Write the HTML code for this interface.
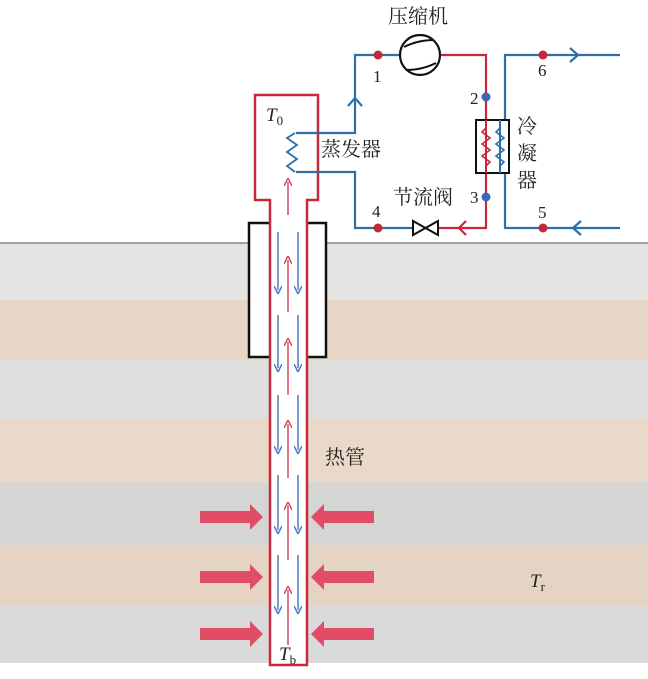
<!DOCTYPE html>
<html><head><meta charset="utf-8"><style>
body{margin:0;width:648px;height:674px;overflow:hidden;background:#fff}
svg text{font-family:"Liberation Serif","Noto Serif CJK SC",serif;fill:#222}
</style></head><body>
<svg width="648" height="674" viewBox="0 0 648 674" xmlns="http://www.w3.org/2000/svg">
<defs>
<marker id="pu" markerWidth="8" markerHeight="8" refX="4" refY="4" orient="auto" markerUnits="userSpaceOnUse"><path d="M0,0 L8,4 L0,8" fill="none" stroke="#d04a6a" stroke-width="1.5"/></marker>
<marker id="bd" markerWidth="8" markerHeight="8" refX="4" refY="4" orient="auto" markerUnits="userSpaceOnUse"><path d="M0,0 L8,4 L0,8" fill="none" stroke="#4a7ac0" stroke-width="1.5"/></marker>
</defs>
<rect x="0" y="243" width="648" height="420" fill="#e4e4e2"/>
<rect x="0" y="300" width="648" height="60" fill="#e8d7c6"/>
<rect x="0" y="360" width="648" height="60" fill="#dededd"/>
<rect x="0" y="420" width="648" height="62" fill="#ead9c9"/>
<rect x="0" y="482" width="648" height="63" fill="#d5d5d4"/>
<rect x="0" y="545" width="648" height="60" fill="#e5d3c3"/>
<rect x="0" y="605" width="648" height="58" fill="#dadada"/>
<line x1="0" y1="243" x2="648" y2="243" stroke="#888" stroke-width="1.5"/>
<rect x="249" y="223" width="77" height="134" fill="#fff" stroke="#111" stroke-width="2.5"/>
<path d="M270,665 L270,200 L255,200 L255,95 L318,95 L318,200 L307,200 L307,665 Z" fill="#fff" stroke="#c8283a" stroke-width="2.5"/>
<g stroke-width="1.5">
<line x1="288" y1="215" x2="288" y2="182" stroke="#d04a6a" marker-end="url(#pu)"/>
<g stroke="#d04a6a">
<line x1="288" y1="312" x2="288" y2="260" marker-end="url(#pu)"/>
<line x1="288" y1="395" x2="288" y2="342" marker-end="url(#pu)"/>
<line x1="288" y1="478" x2="288" y2="424" marker-end="url(#pu)"/>
<line x1="288" y1="560" x2="288" y2="506" marker-end="url(#pu)"/>
<line x1="288" y1="645" x2="288" y2="590" marker-end="url(#pu)"/>
</g>
<g stroke="#4a7ac0">
<line x1="278" y1="232" x2="278" y2="290" marker-end="url(#bd)"/><line x1="298" y1="232" x2="298" y2="290" marker-end="url(#bd)"/>
<line x1="278" y1="315" x2="278" y2="368" marker-end="url(#bd)"/><line x1="298" y1="315" x2="298" y2="368" marker-end="url(#bd)"/>
<line x1="278" y1="395" x2="278" y2="450" marker-end="url(#bd)"/><line x1="298" y1="395" x2="298" y2="450" marker-end="url(#bd)"/>
<line x1="278" y1="475" x2="278" y2="530" marker-end="url(#bd)"/><line x1="298" y1="475" x2="298" y2="530" marker-end="url(#bd)"/>
<line x1="278" y1="555" x2="278" y2="610" marker-end="url(#bd)"/><line x1="298" y1="555" x2="298" y2="610" marker-end="url(#bd)"/>
</g>
</g>
<g fill="#e14d66">
<path d="M200,511 L250,511 L250,504 L263,517 L250,530 L250,523 L200,523 Z"/>
<path d="M200,571 L250,571 L250,564 L263,577 L250,590 L250,583 L200,583 Z"/>
<path d="M200,628 L250,628 L250,621 L263,634 L250,647 L250,640 L200,640 Z"/>
<path d="M374,511 L324,511 L324,504 L311,517 L324,530 L324,523 L374,523 Z"/>
<path d="M374,571 L324,571 L324,564 L311,577 L324,590 L324,583 L374,583 Z"/>
<path d="M374,628 L324,628 L324,621 L311,634 L324,647 L324,640 L374,640 Z"/>
</g>
<g fill="none" stroke-width="2.2">
<path d="M296,133 L355,133 L355,55 L400,55" stroke="#2f6fa8"/>
<path d="M296,172 L355,172 L355,228 L413,228" stroke="#2f6fa8"/>
<path d="M440,55 L486,55 L486,228 L438,228" stroke="#c8283a"/>
<path d="M620,55 L505,55 L505,228 L620,228" stroke="#2f6fa8"/>
<path d="M295,133 L287,138 L297,145 L287,152 L297,159 L287,166 L295,172" stroke="#2f6fa8" stroke-width="1.8"/>
<path d="M348,106 L355,98 L362,106" stroke="#2f6fa8"/>
<path d="M570,48 L578,55 L570,62" stroke="#2f6fa8"/>
<path d="M581,221 L573,228 L581,235" stroke="#2f6fa8"/>
<path d="M466,221 L459,228 L466,235" stroke="#c8283a"/>
</g>
<circle cx="420" cy="55" r="20" fill="#fff" stroke="#111" stroke-width="2.2"/>
<path d="M404,47 Q418,40 434,40 M406,70 Q422,70 436,63" fill="none" stroke="#111" stroke-width="2"/>
<rect x="476" y="120" width="33" height="53" fill="#fff" stroke="#111" stroke-width="2"/>
<line x1="486" y1="120" x2="486" y2="173" stroke="#c8283a" stroke-width="2"/>
<path d="M486,128 L482,132 L490,138 L482,144 L490,150 L482,156 L490,162 L486,166" fill="none" stroke="#c8283a" stroke-width="1.6"/>
<line x1="500" y1="120" x2="500" y2="173" stroke="#2f6fa8" stroke-width="2"/>
<path d="M500,128 L496,132 L504,138 L496,144 L504,150 L496,156 L504,162 L500,166" fill="none" stroke="#2f6fa8" stroke-width="1.6"/>
<path d="M413,221 L413,235 L438,221 L438,235 Z" fill="#fff" stroke="#111" stroke-width="2"/>
<g fill="#c02a3a"><circle cx="378" cy="55" r="4.5"/><circle cx="378" cy="228" r="4.5"/><circle cx="543" cy="55" r="4.5"/><circle cx="543" cy="228" r="4.5"/></g>
<g fill="#3a68b8"><circle cx="486" cy="97" r="4.5"/><circle cx="486" cy="197" r="4.5"/></g>
<g font-size="20">
<text x="388" y="23">压缩机</text>
<text x="321" y="156">蒸发器</text>
<text x="393" y="204">节流阀</text>
<text x="517" y="133">冷</text><text x="517" y="160">凝</text><text x="517" y="187">器</text>
<text x="325" y="464">热管</text>
</g>
<g font-size="17">
<text x="373" y="82">1</text><text x="372" y="217">4</text>
<text x="470" y="104">2</text><text x="470" y="203">3</text>
<text x="538" y="76">6</text><text x="538" y="218">5</text>
</g>
<text x="266" y="121" font-size="19" font-style="italic">T<tspan font-size="13" font-style="normal" dy="4">0</tspan></text>
<text x="530" y="587" font-size="19" font-style="italic">T<tspan font-size="13" font-style="normal" dy="4">r</tspan></text>
<text x="279" y="660" font-size="19" font-style="italic">T<tspan font-size="13" font-style="normal" dy="4">b</tspan></text>
</svg>
</body></html>
